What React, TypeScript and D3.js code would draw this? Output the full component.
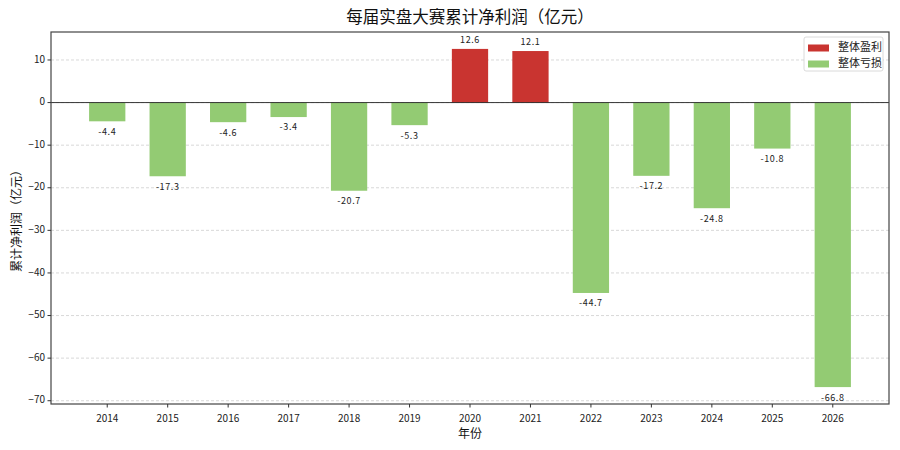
import * as d3 from "d3";

const years = ["2014", "2015", "2016", "2017", "2018", "2019", "2020", "2021", "2022", "2023", "2024", "2025", "2026"];
const profits = [-4.4, -17.3, -4.6, -3.4, -20.7, -5.3, 12.6, 12.1, -44.7, -17.2, -24.8, -10.8, -66.8];
const yTicks = [10, 0, -10, -20, -30, -40, -50, -60, -70];
const legendLabels = ["整体盈利", "整体亏损"];

const W = 900;
const H = 450;
const margin = { top: 32, right: 11, bottom: 46, left: 51 };
const FONT = "'Noto Sans CJK SC', 'DejaVu Sans', sans-serif";
const RED = "#c93430";
const GREEN = "#93cb73";

export default function App() {
  const iw = W - margin.left - margin.right;
  const ih = H - margin.top - margin.bottom;

  // matplotlib-style autoscale: 5% padding around data
  const lo = Math.min(0, d3.min(profits)!);
  const hi = Math.max(0, d3.max(profits)!);
  const pad = (hi - lo) * 0.05;
  const y = d3.scaleLinear().domain([lo - pad, hi + pad]).range([ih, 0]);

  const barW = 0.6;
  const xPad = (years.length - 1 + barW) * 0.05;
  const x = d3
    .scaleLinear()
    .domain([-barW / 2 - xPad, years.length - 1 + barW / 2 + xPad])
    .range([0, iw]);
  const bw = x(barW) - x(0);

  return (
    <svg width={W} height={H} style={{ display: "block", position: "absolute", left: 0, top: 0, background: "#fff" }}>
      <rect width={W} height={H} fill="#fff" />
      <text x={margin.left + iw / 2} y={19} textAnchor="middle" dominantBaseline="middle" fontFamily={FONT} fontSize={16.5} fill="#111">
        每届实盘大赛累计净利润（亿元）
      </text>
      <g transform={`translate(${margin.left},${margin.top})`}>
        {/* grid */}
        {yTicks.map((t) => (
          <line key={`g${t}`} x1={0} x2={iw} y1={y(t)} y2={y(t)} stroke="#cfcfcf" strokeWidth={0.8} strokeDasharray="3,2" />
        ))}
        {/* bars */}
        {profits.map((v, i) => (
          <rect
            key={years[i]}
            x={x(i) - bw / 2}
            y={Math.min(y(v), y(0))}
            width={bw}
            height={Math.abs(y(v) - y(0))}
            fill={v >= 0 ? RED : GREEN}
          />
        ))}
        {/* value labels */}
        {profits.map((v, i) => (
          <text
            key={`l${years[i]}`}
            x={x(i)}
            y={v >= 0 ? y(v) - 8 : y(v) + 11}
            textAnchor="middle"
            dominantBaseline="middle"
            fontFamily={FONT}
            fontSize={9}
            letterSpacing={0.6}
            fill="#222"
          >
            {v.toFixed(1)}
          </text>
        ))}
        {/* zero line */}
        <line x1={0} x2={iw} y1={y(0)} y2={y(0)} stroke="#222" strokeWidth={0.9} />
        {/* frame */}
        <rect x={0} y={0} width={iw} height={ih} fill="none" stroke="#444" strokeWidth={1.2} />
        {/* y axis */}
        {yTicks.map((t) => (
          <g key={`y${t}`} transform={`translate(0,${y(t)})`}>
            <line x1={-3.5} x2={0} stroke="#333" />
            <text x={-6} textAnchor="end" dominantBaseline="middle" fontFamily={FONT} fontSize={10} fill="#222">
              {t < 0 ? `−${-t}` : t}
            </text>
          </g>
        ))}
        {/* x axis */}
        {years.map((yr, i) => (
          <g key={`x${yr}`} transform={`translate(${x(i)},${ih})`}>
            <line y1={0} y2={3.5} stroke="#333" />
            <text y={15} textAnchor="middle" dominantBaseline="middle" fontFamily={FONT} fontSize={10} fill="#222">
              {yr}
            </text>
          </g>
        ))}
        <text x={iw / 2} y={ih + 31} textAnchor="middle" dominantBaseline="middle" fontFamily={FONT} fontSize={12} fill="#111">
          年份
        </text>
        <text
          transform={`translate(${-33},${ih / 2}) rotate(-90)`}
          textAnchor="middle"
          dominantBaseline="middle"
          fontFamily={FONT}
          fontSize={12}
          fill="#111"
        >
          累计净利润（亿元）
        </text>
        {/* legend */}
        <g transform={`translate(${iw - 85},${5})`}>
          <rect width={79} height={34} fill="#fff" stroke="#d0d0d0" strokeWidth={0.8} rx={2} />
          {legendLabels.map((lab, i) => (
            <g key={lab} transform={`translate(4,${11 + i * 16})`}>
              <rect x={0} y={-3.5} width={21} height={7} fill={i === 0 ? RED : GREEN} />
              <text x={30} dominantBaseline="middle" fontFamily={FONT} fontSize={11} fill="#222">
                {lab}
              </text>
            </g>
          ))}
        </g>
      </g>
    </svg>
  );
}
